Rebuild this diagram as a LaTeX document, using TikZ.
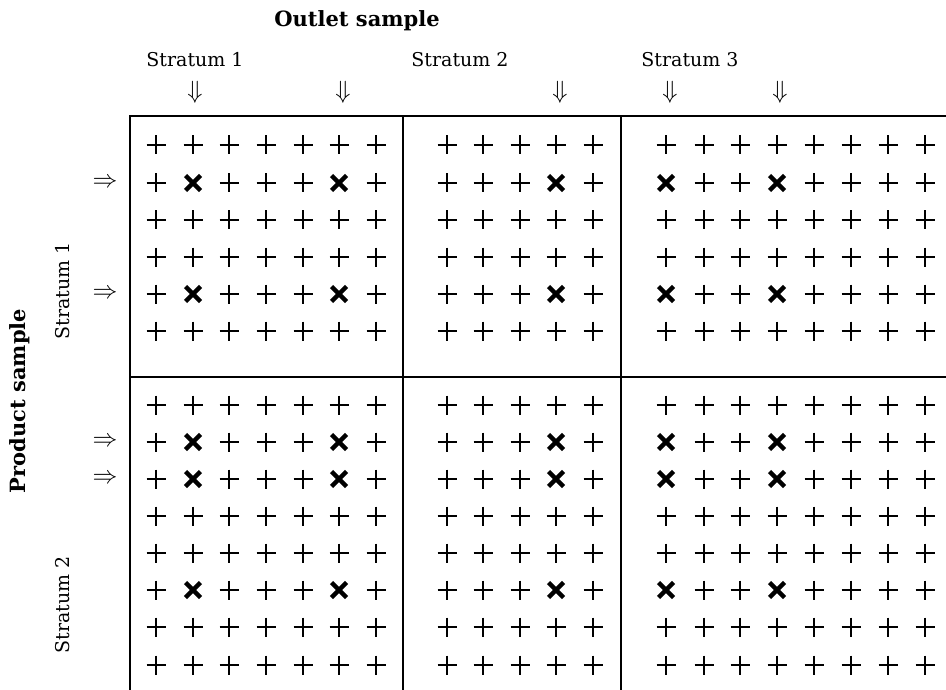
\documentclass[tikz,border=0pt]{standalone}
\usepackage{fontspec}
\setmainfont{DejaVu Serif}

\begin{document}
\begin{tikzpicture}[x=1pt, y=-1pt,
    frame/.style={line width=2pt},
    plusmark/.style={line width=1.8pt},
    crossmark/.style={line width=4.5pt},
    lbl/.style={inner sep=0pt, font=\fontsize{19}{21}\selectfont},
    title/.style={inner sep=0pt, font=\fontsize{21}{23}\selectfont\bfseries},
    arr/.style={inner sep=0pt, font=\fontsize{24}{26}\selectfont}
]
    \useasboundingbox (0,0) rectangle (946,690);

    % table frame
    \draw[frame] (130,690) -- (130,116) -- (946,116);
    \draw[frame] (130,377) -- (946,377);
    \draw[frame] (403,116) -- (403,690);
    \draw[frame] (621,116) -- (621,690);

    % headings
    \node[title] (outlet) at (357,21) {Outlet sample};
    \node[lbl] (outlet1) at (195,60) {Stratum 1};
    \node[lbl] (outlet2) at (460,60) {Stratum 2};
    \node[lbl] (outlet3) at (690,60) {Stratum 3};
    \node[title, rotate=90] (product) at (20,401) {Product sample};
    \node[lbl, rotate=90] (product1) at (63,291) {Stratum 1};
    \node[lbl, rotate=90] (product2) at (63,605) {Stratum 2};

    % selection arrows
    \foreach \x [count=\i] in {195,343,560,670,780}
        \node[arr] (down\i) at (\x,92) {$\Downarrow$};
    \foreach \y [count=\i] in {183,294,442,479}
        \node[arr] (right\i) at (105,\y) {$\Rightarrow$};

    % population grid, x = sampled
    \foreach \y/\s in {145/0,183/1,220/0,257/0,294/1,331/0,405/0,442/1,479/1,516/0,553/0,590/1,627/0,665/0}
        \foreach \x/\t in {156/0,193/1,229/0,266/0,303/0,339/1,376/0,447/0,483/0,520/0,556/1,593/0,666/1,704/0,740/0,777/1,814/0,851/0,888/0,925/0}
        {
            \ifnum\numexpr\s*\t\relax=1
                \draw[crossmark] (\x-7.5,\y-7.5) -- (\x+7.5,\y+7.5) (\x-7.5,\y+7.5) -- (\x+7.5,\y-7.5);
            \else
                \draw[plusmark] (\x-9.5,\y) -- (\x+9.5,\y) (\x,\y-9.5) -- (\x,\y+9.5);
            \fi
        }
\end{tikzpicture}
\end{document}
